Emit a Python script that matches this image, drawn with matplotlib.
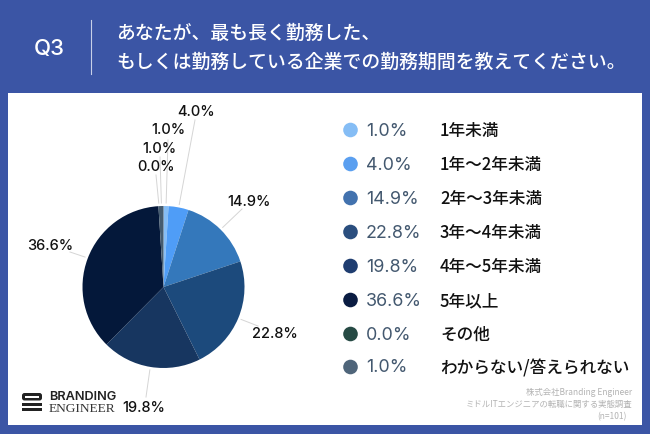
import numpy as np
import matplotlib
matplotlib.use('Agg')
import matplotlib.pyplot as plt
from matplotlib.patches import Circle, Rectangle, FancyBboxPatch

jp = ['Noto Sans CJK JP', 'DejaVu Sans']

categories = ['1年未満', '1年～2年未満', '2年～3年未満', '3年～4年未満',
              '4年～5年未満', '5年以上', 'その他', 'わからない/答えられない']
values = [1.0, 4.0, 14.9, 22.8, 19.8, 36.6, 0.0, 1.0]
pie_colors = ['#85BDF5', '#4F9DF7', '#3478BB', '#1C4A7C', '#173660', '#04183A', '#163A35', '#455C70']
legend_colors = ['#85BDF5', '#5A9FF0', '#4272AE', '#2A4E7E', '#1F3D70', '#0A1C42', '#264A44', '#4F657A']
title_lines = ['あなたが、最も長く勤務した、', 'もしくは勤務している企業での勤務期間を教えてください。']
source_lines = ['株式会社Branding Engineer', 'ミドルITエンジニアの転職に関する実態調査', '(n=101)']

fig = plt.figure(figsize=(6.5, 4.34), dpi=100, facecolor='#3B55A5')

# overlay in pixel coordinates
bg = fig.add_axes([0, 0, 1, 1])
bg.set_xlim(0, 650)
bg.set_ylim(434, 0)
bg.axis('off')
bg.add_patch(Rectangle((8, 93), 634, 332, fc='white', ec='none'))
bg.plot([90.5, 90.5], [20, 74], color='#C8D0E8', lw=0.8)
bg.text(49, 48.5, 'Q3', color='white', fontsize=16, fontweight='medium', ha='center', va='center', family='Inter')
bg.text(116, 33, title_lines[0], color='white', fontsize=13.55, ha='left', va='center', family=jp, fontweight='medium')
bg.text(116, 62, title_lines[1], color='white', fontsize=13.55, ha='left', va='center', family=jp, fontweight='medium')

# pie
cx, cy, r = 163.5, 287, 81
ax = fig.add_axes([(cx - r) / 650, 1 - (cy + r) / 434, 2 * r / 650, 2 * r / 434])
ax.pie(values, colors=pie_colors, startangle=90, counterclock=False, radius=1)
ax.set_xlim(-1, 1)
ax.set_ylim(-1, 1)

# labels with leader lines
label_pos = [(168, 130), (159, 149), (155.5, 167), (196.5, 112), (249, 202), (275, 334), (144, 408), (50.5, 246)]
leader_end = [(168, 140), (160, 157), (156, 175), (195, 120), (242, 209), (258, 326), (146, 397), (70, 252)]
mids = (np.cumsum(values) - np.array(values) / 2) * 3.6
idx = [0, 7, 6, 1, 2, 3, 4, 5]
for k, i in enumerate(idx):
    a = np.radians(mids[i])
    x0 = cx + (r + 3) * np.sin(a)
    y0 = cy - (r + 3) * np.cos(a)
    ex, ey = leader_end[k]
    bg.plot([x0, ex], [y0, ey], color='#D5D5D5', lw=0.7, zorder=1)
    lx, ly = label_pos[k]
    bg.text(lx, ly, f'{values[i]:.1f}%', fontsize=10.5, color='#111111', ha='center', va='center',
            family='Inter', fontweight='medium')

# legend
rows = [130, 164, 198, 232, 266, 300, 334, 367]
for y, c, v, name in zip(rows, legend_colors, values, categories):
    bg.add_patch(Circle((350.5, y), 7.3, fc=c, ec='none'))
    bg.text(366, y + 1, f'{v:.1f}%', fontsize=12.9, color='#43586F', ha='left', va='center', family='Inter')
    bg.text(440, y + 1, name, fontsize=12, color='#111111', ha='left', va='center', family=jp, fontweight='medium')

# logo
bg.add_patch(FancyBboxPatch((22, 393), 20, 7.5, boxstyle='round,pad=0,rounding_size=2.5', fc='#222222', ec='none'))
bg.add_patch(Rectangle((25, 395.5), 14, 2, fc='white', ec='none'))
bg.add_patch(Rectangle((22, 403), 20, 2.5, fc='#222222', ec='none'))
bg.add_patch(Rectangle((22, 407.5), 20, 3.5, fc='#222222', ec='none'))
bg.text(49, 397, 'BRANDING', fontsize=9.2, color='#222222', ha='left', va='center', family='Inter', fontweight='semibold')
bg.text(49, 409, 'ENGINEER', fontsize=9.6, color='#333333', ha='left', va='center', family='Liberation Serif')

# source note
for y, s, x in zip([392, 404.5, 417], source_lines, [632, 632, 627]):
    bg.text(x, y, s, fontsize=6.05, color='#B3B3B3', ha='right', va='center', family=jp)

fig.savefig('out.png', dpi=100, facecolor=fig.get_facecolor())
